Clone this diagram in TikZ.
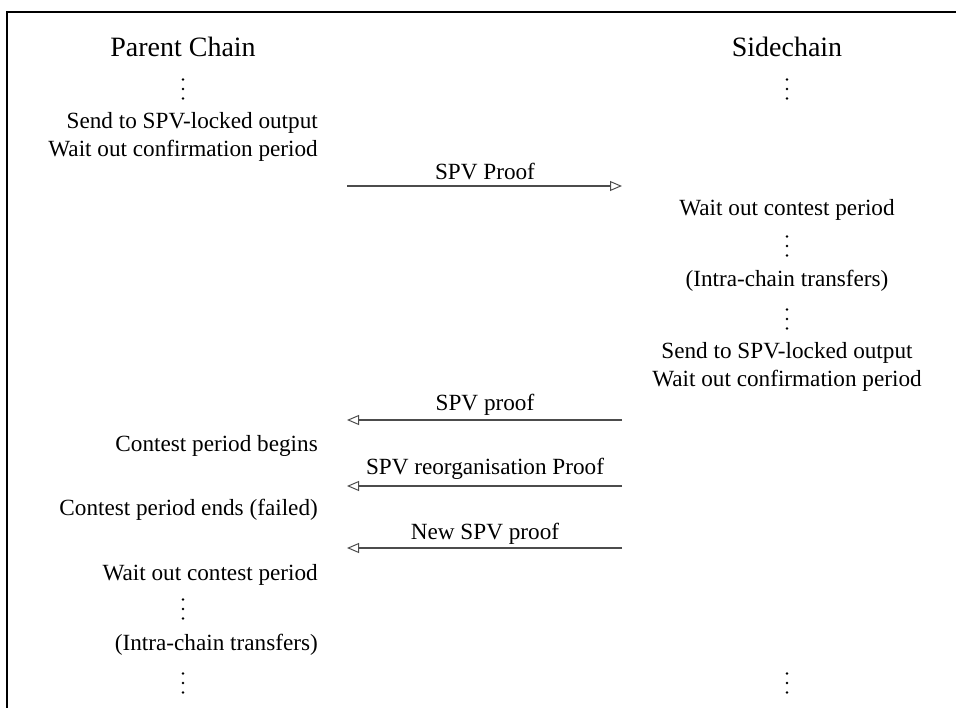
\documentclass[tikz,border=0pt]{standalone}
\usepackage{fontspec}
\setmainfont{Liberation Serif}
\usetikzlibrary{arrows.meta}
\begin{document}
\begin{tikzpicture}[x=1pt,y=-1pt,
  txt/.style={inner sep=0pt,font=\fontsize{23.2}{27}\selectfont},
  head/.style={inner sep=0pt,font=\fontsize{28}{32}\selectfont},
  lft/.style={txt,anchor=base east},
  rgt/.style={txt,anchor=base},
  dts/.style={inner sep=0pt,minimum width=4pt,minimum height=24pt,
    path picture={
      \fill[black] (path picture bounding box.center) ++(0,-9.5) circle (1.4pt);
      \fill[black] (path picture bounding box.center) circle (1.4pt);
      \fill[black] (path picture bounding box.center) ++(0,9.5) circle (1.4pt);}},
  msg/.style={draw=black!70,line width=1.2pt,-{Triangle[open,length=12pt,width=10pt,line width=1pt]}}]
\useasboundingbox (0,0) rectangle (956,708);
\draw[line width=1.6pt] (7,708) -- (7,12) -- (956,12);
% headings
\node[head,anchor=base] (pc) at (183,57) {Parent Chain};
\node[head,anchor=base] (sc) at (787,57) {Sidechain};
% left column
\node[dts] (ld1) at (183,89) {};
\node[lft] (l1) at (318,129) {Send to SPV-locked output};
\node[lft] (l2) at (318,157) {Wait out confirmation period};
\node[lft] (l3) at (318,452) {Contest period begins};
\node[lft] (l4) at (318,515) {Contest period ends (failed)};
\node[lft] (l5) at (318,580) {Wait out contest period};
\node[dts] (ld2) at (183,609) {};
\node[lft] (l6) at (318,650) {(Intra-chain transfers)};
\node[dts] (ld3) at (183,683) {};
% right column
\node[dts] (rd1) at (787,89) {};
\node[rgt] (r1) at (787,216) {Wait out contest period};
\node[dts] (rd2) at (787,246) {};
\node[rgt] (r2) at (787,287) {(Intra-chain transfers)};
\node[dts] (rd3) at (787,319) {};
\node[rgt] (r3) at (787,359) {Send to SPV-locked output};
\node[rgt] (r4) at (787,387) {Wait out confirmation period};
\node[dts] (rd4) at (787,683) {};
% arrows
\coordinate (a1l) at (347,186); \coordinate (a1r) at (622,186);
\coordinate (a2l) at (347,420); \coordinate (a2r) at (622,420);
\coordinate (a3l) at (347,486); \coordinate (a3r) at (622,486);
\coordinate (a4l) at (347,548); \coordinate (a4r) at (622,548);
\draw[msg] (a1l) -- (a1r);
\draw[msg] (a2r) -- (a2l);
\draw[msg] (a3r) -- (a3l);
\draw[msg] (a4r) -- (a4l);
\node[rgt] (m1) at (485,180) {SPV Proof};
\node[rgt] (m2) at (485,411) {SPV proof};
\node[rgt] (m3) at (485,475) {SPV reorganisation Proof};
\node[rgt] (m4) at (485,539) {New SPV proof};
\end{tikzpicture}
\end{document}
